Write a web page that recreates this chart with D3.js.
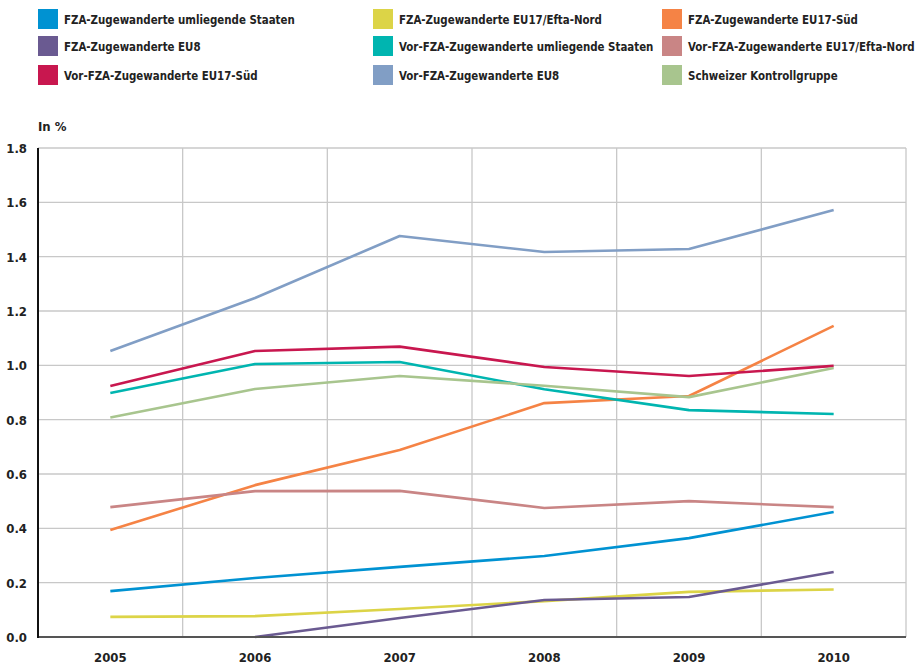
<!DOCTYPE html>
<html><head><meta charset="utf-8">
<script src="https://cdn.jsdelivr.net/npm/d3@7"></script>
<style>
body{margin:0;background:#fff;}
text{font-family:"DejaVu Sans Condensed","DejaVu Sans",sans-serif;font-weight:bold;fill:#222;}
</style></head><body>
<svg id="c" width="919" height="665"></svg>
<script>
const years = ["2005","2006","2007","2008","2009","2010"];
const yTicks = [0,0.2,0.4,0.6,0.8,1.0,1.2,1.4,1.6,1.8];
const seriesNames = [
 "FZA-Zugewanderte umliegende Staaten","FZA-Zugewanderte EU17/Efta-Nord","FZA-Zugewanderte EU17-Süd",
 "FZA-Zugewanderte EU8","Vor-FZA-Zugewanderte umliegende Staaten","Vor-FZA-Zugewanderte EU17/Efta-Nord",
 "Vor-FZA-Zugewanderte EU17-Süd","Vor-FZA-Zugewanderte EU8","Schweizer Kontrollgruppe"];
const colors = ["#0092d2","#dcd447","#f58345","#6a5a91","#00b5b0","#c98585","#c8174f","#819ec5","#a8c58e"];
const fzaUmliegend = [0.169,0.217,0.258,0.298,0.364,0.460];
const fzaNord = [0.074,0.077,0.103,0.132,0.166,0.175];
const fzaSued = [0.394,0.559,0.688,0.861,0.887,1.145];
const fzaEU8 = [null,0.0,0.070,0.136,0.147,0.239];
const vorUmliegend = [0.898,1.005,1.012,0.912,0.835,0.821];
const vorNord = [0.478,0.537,0.538,0.475,0.500,0.478];
const vorSued = [0.924,1.053,1.069,0.994,0.961,0.998];
const vorEU8 = [1.053,1.248,1.476,1.417,1.428,1.572];
const kontroll = [0.808,0.913,0.961,0.925,0.883,0.990];
const seriesValues = [fzaUmliegend,fzaNord,fzaSued,fzaEU8,vorUmliegend,vorNord,vorSued,vorEU8,kontroll];

const svg = d3.select("#c");
const L=38,R=906,T=148,B=637;
const x = d3.scaleBand().domain(years).range([L,R]);
const y = d3.scaleLinear().domain([0,1.8]).range([B,T]);

// grid
svg.append("g").selectAll("line").data(yTicks.filter(d=>d>0)).join("line")
 .attr("x1",L).attr("x2",R).attr("y1",d=>y(d)).attr("y2",d=>y(d))
 .attr("stroke","#c8c8c8").attr("stroke-width",1.3);
const bounds = years.slice(1).map(d=>x(d)).concat([R]);
svg.append("g").selectAll("line").data(bounds).join("line")
 .attr("x1",d=>d).attr("x2",d=>d).attr("y1",T).attr("y2",B)
 .attr("stroke","#c8c8c8").attr("stroke-width",1.3);

// y labels
svg.append("g").selectAll("text").data(yTicks).join("text")
 .attr("x",27).attr("y",d=>y(d)+5).attr("text-anchor","end").attr("font-size",13)
 .text(d=>d.toFixed(1));
svg.append("text").attr("x",38).attr("y",131).attr("font-size",13).text("In %");
// x labels
svg.append("g").selectAll("text").data(years).join("text")
 .attr("x",d=>x(d)+x.bandwidth()/2).attr("y",662).attr("text-anchor","middle").attr("font-size",13)
 .text(d=>d);

// lines
const line = d3.line().defined(d=>d.v!==null).x(d=>x(d.year)+x.bandwidth()/2).y(d=>y(d.v));
seriesValues.forEach((vals,i)=>{
  svg.append("path").datum(vals.map((v,j)=>({year:years[j],v})))
   .attr("d",line).attr("fill","none").attr("stroke",colors[i]).attr("stroke-width",2.6)
   .attr("stroke-linejoin","round");
});

// axes
svg.append("line").attr("x1",L).attr("x2",R).attr("y1",B).attr("y2",B).attr("stroke","#555").attr("stroke-width",2);
svg.append("line").attr("x1",L).attr("x2",L).attr("y1",T).attr("y2",B+1).attr("stroke","#111").attr("stroke-width",2);

// legend
const colX=[38,373,662], rowY=[9,36,65];
seriesNames.forEach((n,i)=>{
  const g = svg.append("g").attr("transform",`translate(${colX[i%3]},${rowY[Math.floor(i/3)]})`);
  g.append("rect").attr("width",20).attr("height",20).attr("fill",colors[i]);
  g.append("text").attr("x",26).attr("y",15).attr("font-size",11.4).text(n);
});
</script></body></html>
